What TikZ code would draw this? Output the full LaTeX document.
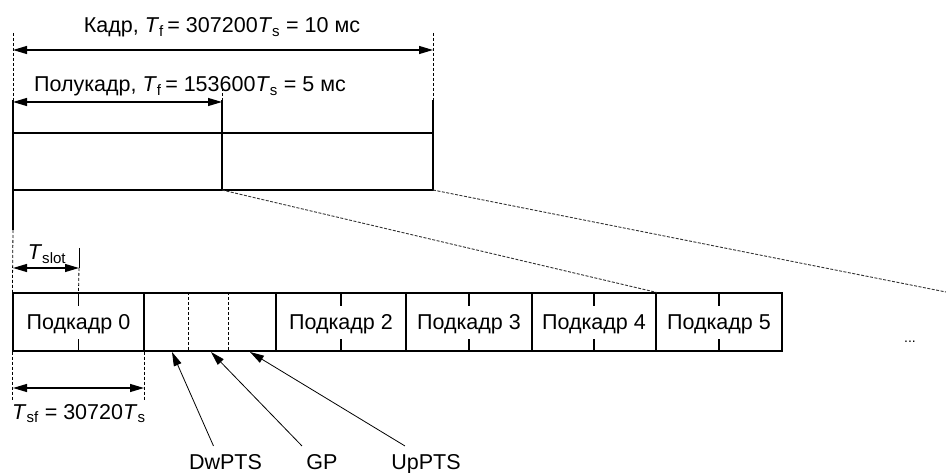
\documentclass[tikz,border=0pt]{standalone}
\usepackage{fontspec}
\setmainfont{Liberation Sans}
\usetikzlibrary{arrows.meta}
\newcommand{\Tsb}[1]{\textit{T}\textsubscript{#1}}
\tikzset{
  dimarrow/.style={{Triangle[length=14pt,width=8pt]}-{Triangle[length=14pt,width=8pt]}, line width=1.2pt},
  ptr/.style={-{Triangle[length=14pt,width=8pt]}, line width=0.8pt},
  ext/.style={dash pattern=on 3pt off 2pt, line width=0.8pt},
  zoomline/.style={dash pattern=on 3pt off 1.5pt, line width=0.9pt, black!80},
  sfbox/.style={draw, line width=1.2pt, minimum height=58pt, text height=15.5pt, text depth=0pt, inner sep=0pt},
  ptrlabel/.style={anchor=base, inner sep=0pt, outer ysep=8pt}
}
\begin{document}
\begin{tikzpicture}[x=1pt, y=-1pt, font=\fontsize{21.5}{25}\selectfont]
  \useasboundingbox (0,0) rectangle (946,473);
  % frame and half-frame
  \draw[line width=1.2pt] (13,100) -- (13,190) -- (433,190) -- (433,100)
    (13,133) -- (433,133) (222,100) -- (222,190);
  \coordinate (half) at (222,190);
  \coordinate (full) at (433,190);
  \draw[ext] (13,33) -- (13,100) (433,33) -- (433,100) (222,88) -- (222,100);
  \draw[dimarrow] (13,50) -- (433,50);
  \draw[dimarrow] (13,102) -- (222,102);
  \node[anchor=base] (kadr) at (222,33) {Кадр, \Tsb{f}\,= 307200\Tsb{s} = 10 мс};
  \node[anchor=base] (pkadr) at (190,92) {Полукадр, \Tsb{f}\,= 153600\Tsb{s} = 5 мс};
  % subframes
  \node[sfbox, minimum width=131pt] (sf0) at (78.5,322) {Подкадр 0};
  \node[sfbox, minimum width=132pt] (sp) at (210,322) {};
  \node[sfbox, minimum width=130pt] (sf2) at (341,322) {Подкадр 2};
  \node[sfbox, minimum width=126pt] (sf3) at (469,322) {Подкадр 3};
  \node[sfbox, minimum width=124pt] (sf4) at (594,322) {Подкадр 4};
  \node[sfbox, minimum width=126pt] (sf5) at (719,322) {Подкадр 5};
  \foreach \n in {sf0,sf2,sf3,sf4,sf5}
    \draw[line width=1.2pt] (\n.north) -- ++(0,14) (\n.south) -- ++(0,-13);
  \draw[ext] ([xshift=45pt]sp.north west) -- ([xshift=45pt]sp.south west)
    ([xshift=85pt]sp.north west) -- ([xshift=85pt]sp.south west);
  \node[anchor=base, font=\fontsize{14}{16}\selectfont] (dots) at (910,343) {...};
  % zoom lines
  \draw[zoomline] (half) -- (sf4.north east);
  \draw[zoomline] (full) -- (946,292);
  % slot
  \draw[line width=1.2pt] (13,190) -- (13,230);
  \draw[ext] (13,230) -- (sf0.north west);
  \draw[line width=1pt] (79,248) -- (79,268);
  \draw[ext] (79,268) -- (sf0.north);
  \draw[dimarrow] (13,268) -- (79,268);
  \node[anchor=base] (tslot) at (47,260) {\Tsb{slot}};
  % subframe length
  \draw[ext] (sf0.south west) -- ++(0,49) (sf0.south east) -- ++(0,49);
  \draw[dimarrow] (13,388) -- (144,388);
  \node[anchor=base west, inner sep=0pt] (tsf) at (12,419) {\Tsb{sf} = 30720\Tsb{s}};
  % special subframe fields
  \coordinate (dwp) at (172,352);
  \coordinate (gpp) at (211,352);
  \coordinate (upp) at (250,352);
  \node[ptrlabel] (dw) at (225.5,469) {DwPTS};
  \node[ptrlabel] (gp) at (322,469) {GP};
  \node[ptrlabel] (up) at (426,469) {UpPTS};
  \draw[ptr] ([xshift=-12pt]dw.north) -- (dwp);
  \draw[ptr] ([xshift=-20pt]gp.north) -- (gpp);
  \draw[ptr] ([xshift=-21pt]up.north) -- (upp);
\end{tikzpicture}
\end{document}
